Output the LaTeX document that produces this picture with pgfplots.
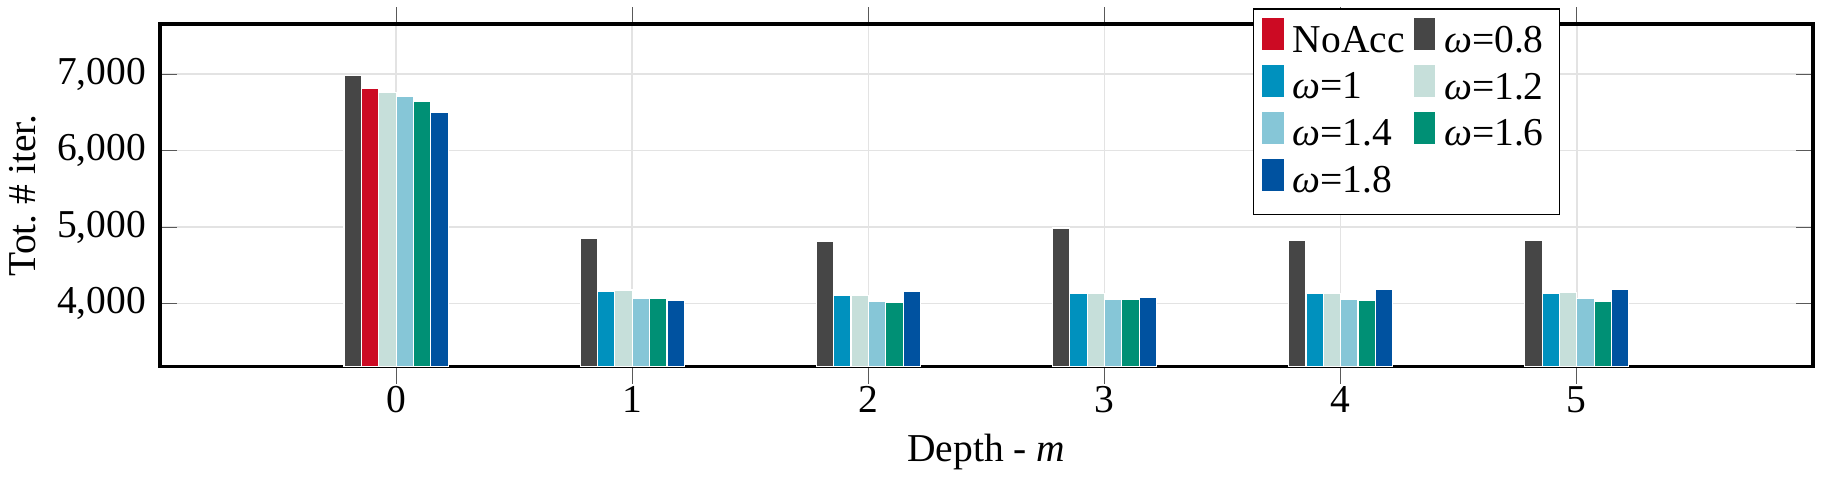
\documentclass[border=0pt]{standalone}
\usepackage{fontspec}
\setmainfont{Liberation Serif}
\usepackage{pgfplots}
\pgfplotsset{compat=1.18}
\definecolor{cNo}{RGB}{204,10,35}
\definecolor{cA}{RGB}{70,70,70}
\definecolor{cB}{RGB}{0,145,190}
\definecolor{cC}{RGB}{198,223,218}
\definecolor{cD}{RGB}{134,198,215}
\definecolor{cE}{RGB}{0,144,117}
\definecolor{cF}{RGB}{0,82,160}
\begin{document}
\begin{tikzpicture}
\begin{axis}[
  scale only axis,
  width=418.5pt, height=86.8pt,
  ybar, bar width=0.0735,
  xmin=-1, xmax=6,
  ymin=3170, ymax=7654,
  xtick={0,1,2,3,4,5},
  ytick={4000,5000,6000,7000},
  /pgf/number format/assume math mode=true,
  grid=major,
  major grid style={gray!22},
  axis line style={black, line width=0.8pt},
  tick style={gray!70!black},
  xticklabel style={yshift=2.9pt},
  xlabel={Depth - \textit{m}},
  ylabel={Tot.~\# iter.},
  xlabel style={at={(axis description cs:0.5,-0.248)}, anchor=center},
  ylabel style={at={(axis description cs:-0.083,0.5)}, anchor=center},
  legend columns=2,
  legend cell align=left,
  legend style={at={(axis description cs:0.661,1.047)}, anchor=north west, draw=black, inner sep=2pt, row sep=-0.6pt, /tikz/every even column/.append style={column sep=0pt}},
  legend image code/.code={\fill[#1] (0cm,-0.08cm) rectangle (0.2cm,0.22cm);},
  every axis plot/.append style={draw=white, line width=0.3pt},
]
\addplot[fill=cNo, bar shift=-0.11025] coordinates {(0,6814)};
\addlegendentry{NoAcc}
\addplot[fill=cA, bar shift=-0.18375] coordinates {(0,6978)(1,4857)(2,4805)(3,4987)(4,4823)(5,4823)};
\addlegendentry{\textit{ω}=0.8}
\addplot[fill=cB, bar shift=-0.11025] coordinates {(1,4152)(2,4100)(3,4126)(4,4126)(5,4126)};
\addlegendentry{\textit{ω}=1}
\addplot[fill=cC, bar shift=-0.03675] coordinates {(0,6762)(1,4177)(2,4108)(3,4126)(4,4126)(5,4139)};
\addlegendentry{\textit{ω}=1.2}
\addplot[fill=cD, bar shift=0.03675] coordinates {(0,6710)(1,4061)(2,4022)(3,4048)(4,4048)(5,4065)};
\addlegendentry{\textit{ω}=1.4}
\addplot[fill=cE, bar shift=0.11025] coordinates {(0,6645)(1,4061)(2,4009)(3,4048)(4,4035)(5,4022)};
\addlegendentry{\textit{ω}=1.6}
\addplot[fill=cF, bar shift=0.18375] coordinates {(0,6502)(1,4035)(2,4152)(3,4074)(4,4182)(5,4182)};
\addlegendentry{\textit{ω}=1.8}
\end{axis}
\pgfresetboundingbox
\path ([shift={(-40.5pt,-28.4pt)}]current axis.south west) rectangle ([shift={(2.3pt,6.1pt)}]current axis.north east);
\end{tikzpicture}
\end{document}
